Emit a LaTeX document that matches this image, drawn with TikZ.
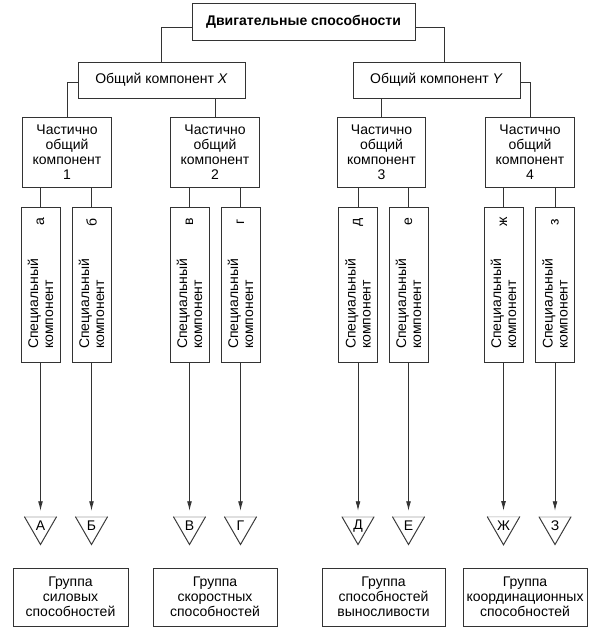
\documentclass[tikz,border=0pt]{standalone}
\usepackage{fontspec}
\setmainfont{Liberation Sans}
\usetikzlibrary{shapes.geometric,arrows.meta}
\begin{document}
\begin{tikzpicture}[x=0.75pt,y=-0.75pt,
  font=\fontsize{10.5}{11.3}\selectfont,
  line/.style={draw=black!80, line width=0.6pt},
  sized/.style 2 args={minimum width=#1*0.75pt, minimum height=#2*0.75pt},
  box/.style={line, rectangle, inner sep=0pt, align=center},
  sctext/.style={rotate=90, anchor=west, align=left, inner sep=0pt},
  scletter/.style={rotate=90, inner sep=0pt},
  tri/.style={regular polygon, regular polygon sides=3, shape border rotate=180,
    minimum size=36*0.75pt, inner sep=0pt, draw=black!35, line width=0.5pt},
  arr/.style={line, -{Latex[length=7pt,width=3.6pt]}, shorten >=4.5pt}
]
\useasboundingbox (0,0) rectangle (600,630);
\fill[white] (0,0) rectangle (600,630);

% top
\node[box, sized={223}{37}, font=\fontsize{10.5}{11.3}\selectfont\bfseries] (top) at (303.5,21.5) {Двигательные способности};
\node[box, sized={167}{36}] (X) at (161.5,80) {Общий компонент \textit{X}};
\node[box, sized={167}{36}] (Y) at (436.5,80) {Общий компонент \textit{Y}};

% partially common
\node[box, sized={89}{70}] (pc1) at (67,152) {Частично\\общий\\компонент\\1};
\node[box, sized={89}{70}] (pc2) at (215,152) {Частично\\общий\\компонент\\2};
\node[box, sized={88}{70}] (pc3) at (381.5,152) {Частично\\общий\\компонент\\3};
\node[box, sized={89}{70}] (pc4) at (530,152) {Частично\\общий\\компонент\\4};

\draw[line] ([yshift=-4.1pt]top.west) -| (X.north);
\draw[line] ([yshift=-4.1pt]top.east) -| ([xshift=5.6pt]Y.north);
\draw[line] ([yshift=-1.5pt]X.west) -| (pc1.north);
\draw[line] (X.south -| pc2.north) -- (pc2.north);
\draw[line] (Y.south -| pc3.north) -- (pc3.north);
\draw[line] ([yshift=-1.5pt]Y.east) -| (pc4.north);

% special components
\foreach \n/\x/\l/\L/\p in {a/40.5/а/А/pc1, b/91.5/б/Б/pc1, v/189.5/в/В/pc2, g/240.5/г/Г/pc2,
                           d/358/д/Д/pc3, e/408.5/е/Е/pc3, zh/503.5/ж/Ж/pc4, z/555/з/З/pc4}{
  \node[box, sized={39}{155}] (s\n) at (\x,284.5) {};
  \node[sctext] (st\n) at (\x,349) {Специальный\\компонент};
  \node[scletter] (sl\n) at (\x,222) {\l};
  \draw[line] (s\n.north) -- (s\n.north |- \p.south);
  \node[tri] (t\n) at (\x,526) {\L};
  \draw[line] (t\n.corner 2) -- (t\n.corner 1) -- (t\n.corner 3);
  \draw[arr] (s\n.south) -- (t\n.north);
}

% groups
\node[box, sized={115}{58}] (g1) at (70.5,597) {Группа\\силовых\\способностей};
\node[box, sized={124}{58}] (g2) at (215,597) {Группа\\скоростных\\способностей};
\node[box, sized={123}{58}] (g3) at (383.5,597) {Группа\\способностей\\выносливости};
\node[box, sized={124}{58}] (g4) at (525,597) {Группа\\координационных\\способностей};
\end{tikzpicture}
\end{document}
